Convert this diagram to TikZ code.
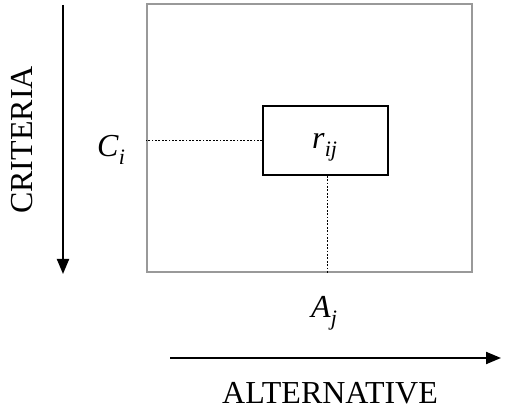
\documentclass[tikz,border=0pt]{standalone}
\usepackage{fontspec}
\setmainfont{Liberation Serif}
\usetikzlibrary{arrows.meta}
\tikzset{
  big/.style={font=\fontsize{32}{38}\selectfont, inner sep=0pt},
  frame/.style={draw=gray!80, line width=1.6pt, minimum width=325pt, minimum height=268pt, inner sep=0pt},
  cell/.style={draw=black, line width=1.6pt, minimum width=125pt, minimum height=69pt, inner sep=0pt},
  guide/.style={dash pattern=on 1.8pt off 1.6pt, line width=1.8pt},
  axis/.style={line width=2pt, -{Triangle[length=15pt,width=12pt]}}
}
\newcommand{\subtext}[1]{\raisebox{-0.22em}{\fontsize{22}{26}\selectfont\itshape #1}}
\begin{document}
\begin{tikzpicture}[x=1pt,y=1pt]
\useasboundingbox (0,0) rectangle (511,411);
\node[frame] (outer) at (309.5,273) {};
\node[cell] (inner) at (325.5,270.5) {};
\node[big, anchor=base west] (rlabel) at (312,262) {\textit{r}\subtext{ij}};
\node[big, anchor=base west] (clabel) at (97,254) {\textit{C}\subtext{i}};
\node[big, anchor=base west] (alabel) at (311,93) {\textit{A}\subtext{j}};
\draw[guide] (inner.west) -- (inner.west -| outer.west);
\draw[guide] (inner.south) ++(2,0) coordinate (vtop) -- (vtop |- outer.south);
\coordinate (ctop) at (63,406);
\coordinate (cbot) at (63,137);
\draw[axis] (ctop) -- (cbot);
\coordinate (aleft) at (170,53);
\coordinate (aright) at (501,53);
\draw[axis] (aleft) -- (aright);
\node[big, rotate=90] (crit) at (22,271) {CRITERIA};
\node[big, anchor=base] (alt) at (330,7) {ALTERNATIVE};
\end{tikzpicture}
\end{document}
